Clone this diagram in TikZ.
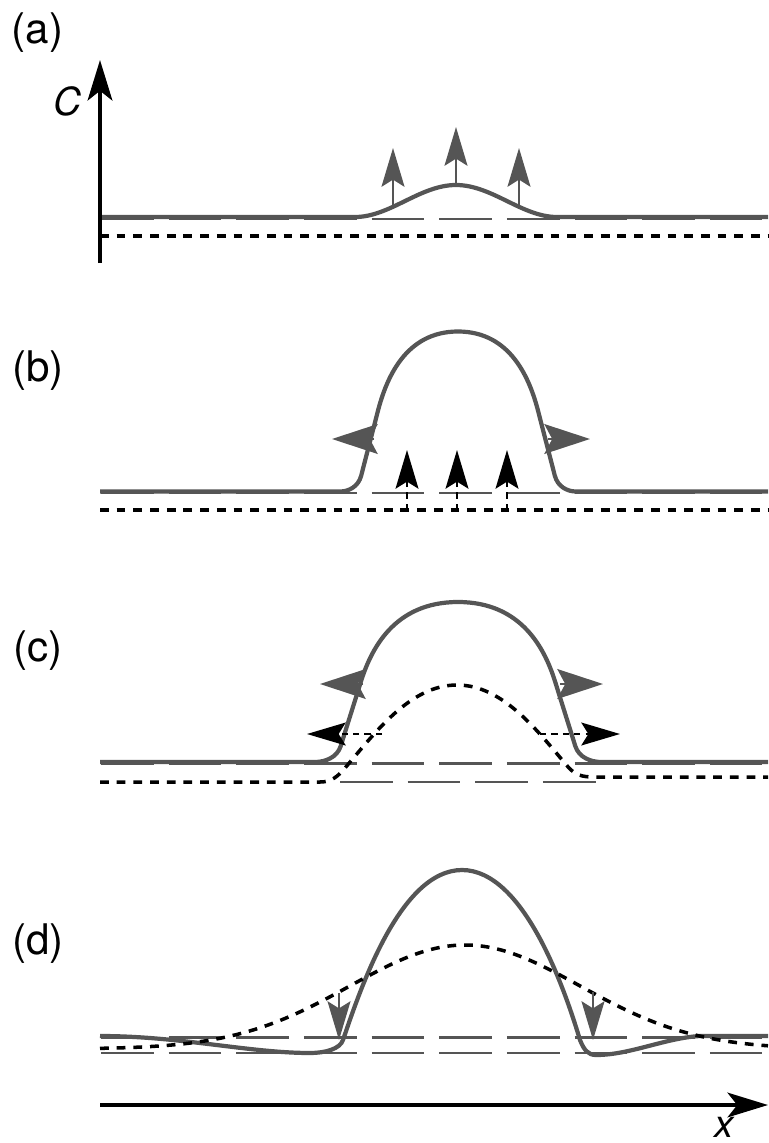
\documentclass[tikz,border=0pt]{standalone}
\usepackage{fontspec}
\setmainfont{TeX Gyre Heros}
\usetikzlibrary{arrows.meta}
\definecolor{cgray}{RGB}{85,85,85}
\newcommand{\plateaupath}[4]{%
  \begin{scope}[shift={(#1,#2)}, xscale=#3, yscale=-#4]
    \pgfmathsetmacro{\pul}{(100-#1)/#3}
    \pgfmathsetmacro{\pur}{(768-#1)/#3}
    \draw[solidc] (\pul,0) -- (-1,0)
      .. controls (-0.93,0) and (-0.845,0.028) .. (-0.82,0.1)
      .. controls (-0.775,0.23) and (-0.725,0.37) .. (-0.68,0.5)
      .. controls (-0.61,0.7) and (-0.45,1) .. (0,1)
      .. controls (0.45,1) and (0.61,0.7) .. (0.68,0.5)
      .. controls (0.725,0.37) and (0.775,0.23) .. (0.82,0.1)
      .. controls (0.845,0.028) and (0.93,0) .. (1,0) -- (\pur,0);
  \end{scope}}
\begin{document}
\begin{tikzpicture}[x=0.02cm,y=-0.02cm,
  solidc/.style={draw=cgray, line width=2.4pt, line join=round},
  refdash/.style={draw=cgray, line width=1.4pt, dash pattern=on 30pt off 8.5pt},
  dotline/.style={draw=black, line width=2pt, dash pattern=on 5pt off 4.5pt},
  axisline/.style={draw=black, line width=2.4pt, -{Stealth[length=23pt,width=14pt,inset=5.5pt]}},
  grayup/.style={draw=cgray, line width=1.7pt, -{Stealth[length=22pt,width=13pt,inset=4pt]}},
  grayhead/.style={draw=cgray, line width=1pt, -{Stealth[length=26pt,width=17pt,inset=4.5pt]}},
  blackdash/.style={draw=black, line width=1.4pt, dash pattern=on 3.5pt off 3pt, -{Stealth[length=22pt,width=13pt,inset=4pt]}},
  panellabel/.style={font=\fontsize{24pt}{28pt}\selectfont, inner sep=0pt},
  axislabel/.style={font=\fontsize{22pt}{26pt}\selectfont\itshape, inner sep=0pt}]
\useasboundingbox (0,0) rectangle (768,1143);

% ---------- panel (a)
\node[panellabel] (la) at (37.5,33) {(a)};
\draw[refdash] (101,219) -- (768,219);
\draw[solidc] (100,217) -- (355,217) .. controls (390,217) and (420,185) .. (456,185)
  .. controls (492,185) and (522,217) .. (557,217) -- (768,217);
\draw[dotline] (100,236) -- (768,236);
\coordinate (ya0) at (100,263);
\coordinate (ya1) at (100,60);
\draw[axisline] (ya0) -- (ya1);
\node[axislabel] (lC) at (67,101) {C};
\coordinate (a1s) at (393,207); \coordinate (a1e) at (393,148);
\coordinate (a2s) at (456,185); \coordinate (a2e) at (456,127);
\coordinate (a3s) at (519,207); \coordinate (a3e) at (519,148);
\draw[grayup] (a1s) -- (a1e);
\draw[grayup] (a2s) -- (a2e);
\draw[grayup] (a3s) -- (a3e);

% ---------- panel (b)
\node[panellabel] (lb) at (38,371) {(b)};
\draw[refdash] (101,493) -- (768,493);
\plateaupath{458}{491.5}{118}{160}
\draw[dotline] (100,510) -- (768,510);
\foreach \xx/\nm in {407/b1,457/b2,507/b3}{
  \coordinate (\nm s) at (\xx,510); \coordinate (\nm e) at (\xx,450);
  \draw[blackdash] (\nm s) -- (\nm e);
}
\coordinate (bl0) at (374,439); \coordinate (bl1) at (332,439);
\coordinate (br0) at (548,439); \coordinate (br1) at (590,439);
\draw[grayhead] (bl0) -- (bl1);
\draw[grayhead] (br0) -- (br1);

% ---------- panel (c)
\node[panellabel] (lc) at (38,651) {(c)};
\draw[refdash] (101,763.5) -- (768,763.5);
\draw[refdash] (340,782) -- (600,782);
\plateaupath{458}{762}{143}{160}
\draw[dotline] (100,782) -- (320,782) .. controls (332,782) and (338,776) .. (345,768)
  .. controls (375,733) and (410,685) .. (457,685)
  .. controls (504,685) and (539,733) .. (569,768)
  .. controls (576,775) and (582,777) .. (594,777) -- (768,777);
\coordinate (cl0) at (363,684); \coordinate (cl1) at (320,684);
\coordinate (cr0) at (560,684); \coordinate (cr1) at (603,684);
\draw[grayhead] (cl0) -- (cl1);
\draw[grayhead] (cr0) -- (cr1);
\coordinate (cbl0) at (382,734); \coordinate (cbl1) at (307,734);
\coordinate (cbr0) at (540,734); \coordinate (cbr1) at (620,734);
\draw[blackdash] (cbl0) -- (cbl1);
\draw[blackdash] (cbr0) -- (cbr1);

% ---------- panel (d)
\node[panellabel] (ld) at (38,944) {(d)};
\draw[refdash] (101,1037.5) -- (768,1037.5);
\draw[refdash] (101,1053) -- (768,1053);
\draw[solidc] (100,1036) .. controls (180,1036) and (250,1053) .. (310,1053)
  .. controls (325,1053) and (340,1049) .. (343,1040)
  .. controls (360,990) and (400,870) .. (462,870)
  .. controls (524,870) and (565,990) .. (580,1040)
  .. controls (584,1050) and (588,1055) .. (596,1055)
  .. controls (630,1055) and (665,1038) .. (700,1036) -- (768,1036);
\draw[dotline] plot[domain=100:768, samples=120, smooth] (\x, {1049 - 104*exp(-0.5*((\x-465)/115)^2)});
\coordinate (dl0) at (339,993); \coordinate (dl1) at (339,1040);
\coordinate (dr0) at (593,992); \coordinate (dr1) at (593,1040);
\draw[grayup] (dl0) -- (dl1);
\draw[grayup] (dr0) -- (dr1);
\coordinate (xa0) at (100,1105);
\coordinate (xa1) at (768,1105);
\draw[axisline] (xa0) -- (xa1);
\node[axislabel] (lx) at (724,1127) {x};
\end{tikzpicture}
\end{document}
